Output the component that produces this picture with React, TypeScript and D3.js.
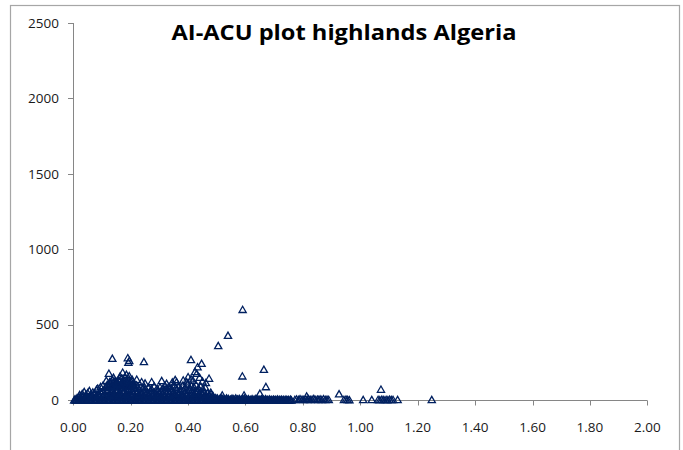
import React from "react";
import * as d3 from "d3";

const W = 683;
const H = 450;

const xTicks = [0, 0.2, 0.4, 0.6, 0.8, 1.0, 1.2, 1.4, 1.6, 1.8, 2.0];
const yTicks = [0, 500, 1000, 1500, 2000, 2500];
const title = "AI-ACU plot highlands Algeria";

// points lying on the axis (ACU ~ 0)
const axisX = [0.003,0.008,0.012,0.017,0.021,0.026,0.03,0.035,0.039,0.044,0.048,0.053,0.057,0.062,0.066,0.071,0.075,0.08,0.084,0.089,0.093,0.098,0.102,0.107,0.111,0.116,0.12,0.125,0.129,0.134,0.138,0.143,0.147,0.152,0.156,0.161,0.165,0.17,0.174,0.179,0.183,0.188,0.192,0.197,0.201,0.206,0.21,0.215,0.219,0.224,0.228,0.233,0.237,0.242,0.246,0.251,0.255,0.26,0.264,0.269,0.273,0.278,0.282,0.287,0.291,0.296,0.3,0.305,0.309,0.314,0.318,0.323,0.327,0.332,0.336,0.341,0.345,0.35,0.354,0.359,0.363,0.368,0.372,0.377,0.381,0.386,0.39,0.395,0.399,0.404,0.408,0.413,0.417,0.422,0.426,0.431,0.435,0.44,0.444,0.449,0.453,0.458,0.462,0.467,0.471,0.476,0.48,0.485,0.489,0.494,0.498,0.503,0.507,0.512,0.516,0.521,0.525,0.53,0.534,0.539,0.543,0.548,0.552,0.557,0.561,0.566,0.57,0.575,0.579,0.584,0.588,0.593,0.597,0.602,0.606,0.611,0.615,0.62,0.624,0.629,0.633,0.638,0.642,0.647,0.651,0.656,0.66,0.665,0.669,0.674,0.678,0.683,0.687,0.692,0.696,0.701,0.705,0.71,0.714,0.719,0.723,0.728,0.732,0.737,0.741,0.746,0.75,0.755,0.76];

const lowBand: [number, number][] = [[0.006,8],[0.013,14],[0.02,20],[0.027,12],[0.033,24],[0.04,18],[0.046,28],[0.052,15],[0.059,22],[0.065,30],[0.071,17],[0.078,26],[0.084,20],[0.09,31],[0.097,14],[0.103,25],[0.11,19],[0.116,28],[0.122,22],[0.129,16],[0.135,30],[0.141,21],[0.148,27],[0.154,18],[0.16,29],[0.167,23],[0.173,15],[0.179,27],[0.186,21],[0.192,30],[0.198,17],[0.205,25],[0.211,20],[0.217,28],[0.224,14],[0.23,24],[0.236,19],[0.243,27],[0.249,22],[0.255,16],[0.262,29],[0.268,21],[0.274,26],[0.281,18],[0.287,23],[0.293,30],[0.3,15],[0.306,25],[0.312,20],[0.319,28],[0.325,17],[0.331,24],[0.338,21],[0.344,29],[0.35,16],[0.357,26],[0.363,22],[0.369,18],[0.376,28],[0.382,23],[0.388,15],[0.395,27],[0.401,20],[0.407,25],[0.414,18],[0.42,29],[0.426,22],[0.433,16],[0.439,26],[0.445,21],[0.452,18],[0.458,24],[0.464,14],[0.471,20],[0.477,11],[0.483,17],[0.49,9],[0.496,15],[0.502,12],[0.509,8],[0.515,14],[0.521,10],[0.528,6],[0.534,12],[0.54,9],[0.547,5],[0.553,11],[0.559,7],[0.566,13],[0.572,6],[0.578,10],[0.585,4],[0.591,9],[0.597,12],[0.604,5],[0.61,8],[0.617,3],[0.623,7],[0.63,4],[0.636,9],[0.643,5],[0.65,3],[0.656,7],[0.663,4],[0.67,8],[0.676,3],[0.683,6],[0.69,2],[0.697,5],[0.704,3],[0.711,6],[0.718,2],[0.725,4],[0.733,3],[0.741,5],[0.749,2],[0.757,4]];

const midBand: [number, number][] = [[0.022,35],[0.031,42],[0.038,55],[0.044,38],[0.05,48],[0.056,62],[0.061,40],[0.068,52],[0.074,45],[0.081,70],[0.087,38],[0.093,58],[0.099,47],[0.104,64],[0.11,42],[0.115,55],[0.121,68],[0.126,36],[0.132,50],[0.137,62],[0.143,45],[0.148,58],[0.153,70],[0.158,40],[0.163,52],[0.168,65],[0.173,48],[0.178,60],[0.183,38],[0.188,55],[0.193,68],[0.199,44],[0.204,57],[0.21,40],[0.216,63],[0.222,48],[0.228,36],[0.234,58],[0.24,45],[0.246,66],[0.252,40],[0.258,53],[0.264,35],[0.27,60],[0.276,44],[0.282,52],[0.288,38],[0.294,63],[0.3,47],[0.306,55],[0.312,40],[0.318,66],[0.324,45],[0.33,58],[0.336,38],[0.342,62],[0.348,50],[0.354,42],[0.36,68],[0.366,48],[0.372,57],[0.378,40],[0.384,64],[0.39,52],[0.396,45],[0.402,70],[0.408,48],[0.414,60],[0.42,42],[0.426,55],[0.432,66],[0.438,45],[0.444,58],[0.45,40],[0.456,52],[0.462,35],[0.468,46],[0.474,32],[0.48,40],[0.486,30]];

const highBand: [number, number][] = [[0.085,78],[0.095,88],[0.103,95],[0.112,84],[0.118,102],[0.124,90],[0.13,110],[0.136,80],[0.141,98],[0.146,108],[0.151,86],[0.156,100],[0.161,92],[0.166,112],[0.171,82],[0.176,104],[0.181,95],[0.186,108],[0.191,88],[0.196,100],[0.202,78],[0.208,92],[0.214,85],[0.22,98],[0.228,76],[0.236,88],[0.244,80],[0.252,72],[0.262,84],[0.272,75],[0.282,92],[0.292,78],[0.302,86],[0.31,74],[0.318,96],[0.326,82],[0.334,90],[0.342,78],[0.35,100],[0.358,84],[0.366,92],[0.374,76],[0.382,98],[0.39,86],[0.398,105],[0.405,80],[0.412,94],[0.42,88],[0.428,100],[0.436,78],[0.444,92],[0.452,74],[0.46,84],[0.127,120],[0.133,96],[0.139,118],[0.144,90],[0.149,122],[0.154,104],[0.159,126],[0.164,98],[0.169,118],[0.174,92],[0.179,124],[0.184,100],[0.189,116],[0.194,94],[0.199,112],[0.206,104],[0.212,96]];

const upperScatter: [number, number][] = [[0.124,177],[0.137,133],[0.151,110],[0.163,159],[0.172,184],[0.174,120],[0.18,150],[0.185,170],[0.19,135],[0.195,160],[0.2,125],[0.205,137],[0.21,115],[0.221,137],[0.238,121],[0.25,112],[0.273,121],[0.308,128],[0.325,110],[0.345,118],[0.36,121],[0.383,132],[0.4,154],[0.41,140],[0.424,188],[0.43,177],[0.44,150],[0.45,125],[0.462,115],[0.473,144],[0.14,150],[0.158,135],[0.167,140],[0.145,125],[0.128,120],[0.115,130],[0.355,135],[0.395,120],[0.417,130]];

const outliers: [number, number][] = [[0.136,276],[0.19,280],[0.195,262],[0.192,250],[0.246,254],[0.41,268],[0.447,243],[0.433,220],[0.505,360],[0.539,428],[0.59,600],[0.589,159],[0.664,203],[0.671,88],[0.65,44],[0.595,33],[0.519,33],[0.479,51],[0.926,40],[1.072,71],[0.813,26]];

const tail: [number, number][] = [[0.772,3],[0.778,6],[0.785,2],[0.79,8],[0.797,4],[0.803,2],[0.81,5],[0.815,3],[0.82,7],[0.826,2],[0.832,4],[0.838,9],[0.843,3],[0.85,5],[0.855,2],[0.86,6],[0.866,3],[0.872,8],[0.878,2],[0.884,4],[0.89,3],[0.943,2],[0.95,5],[0.956,3],[0.962,1],[1.01,2],[1.04,2],[1.062,3],[1.068,1],[1.075,4],[1.082,2],[1.09,3],[1.096,1],[1.102,4],[1.108,2],[1.114,3],[1.13,2],[1.249,2]];

const NAVY = "#002060";
const AXIS = "#868686";
const FONT = "'Open Sans', 'Liberation Sans', sans-serif";

export default function App() {
  const x = d3.scaleLinear().domain([0, 2]).range([73.3, 647.3]);
  const y = d3.scaleLinear().domain([0, 2500]).range([400, 23]);

  const points: [number, number][] = [
    ...axisX.map((v) => [v, 0] as [number, number]),
    ...lowBand,
    ...midBand,
    ...highBand,
    ...upperScatter,
    ...tail,
    ...outliers,
  ];

  const tri = "M0,-3.3L3.6,3L-3.6,3Z";

  return (
    <div style={{ position: "absolute", left: 0, top: 0 }}>
      <svg width={W} height={H} style={{ display: "block", background: "#fff" }}>
        <rect x={10.5} y={5.5} width={669} height={460} fill="#fff" stroke="#a6a6a6" strokeWidth={1.2} />
        {/* y axis */}
        <line x1={73.5} x2={73.5} y1={y(2500)} y2={y(0)} stroke={AXIS} strokeWidth={1} />
        {yTicks.map((t) => (
          <g key={"y" + t}>
            <line x1={68} x2={73.5} y1={Math.round(y(t)) + 0.5} y2={Math.round(y(t)) + 0.5} stroke={AXIS} />
            <text x={59} y={y(t) + 4.8} textAnchor="end" fontFamily={FONT} fontSize={13.5} fill="#1a1a1a">
              {t}
            </text>
          </g>
        ))}
        {/* x axis */}
        <line x1={x(0)} x2={x(2)} y1={400.5} y2={400.5} stroke={AXIS} strokeWidth={1} />
        {xTicks.map((t) => (
          <g key={"x" + t}>
            <line x1={Math.round(x(t)) + 0.5} x2={Math.round(x(t)) + 0.5} y1={400.5} y2={405.5} stroke={AXIS} />
            <text x={x(t)} y={431.5} textAnchor="middle" fontFamily={FONT} fontSize={13.5} fill="#1a1a1a">
              {t.toFixed(2)}
            </text>
          </g>
        ))}
        {/* points */}
        <g fill="none" stroke={NAVY} strokeWidth={1.3}>
          {points.map((p, i) => (
            <path key={i} d={tri} transform={`translate(${x(p[0])},${y(p[1])})`} />
          ))}
        </g>
        <text x={344} y={40} textAnchor="middle" fontFamily={FONT} fontWeight="bold" fontSize={21.5} fill="#000" textLength={345} lengthAdjust="spacingAndGlyphs">
          {title}
        </text>
      </svg>
    </div>
  );
}
